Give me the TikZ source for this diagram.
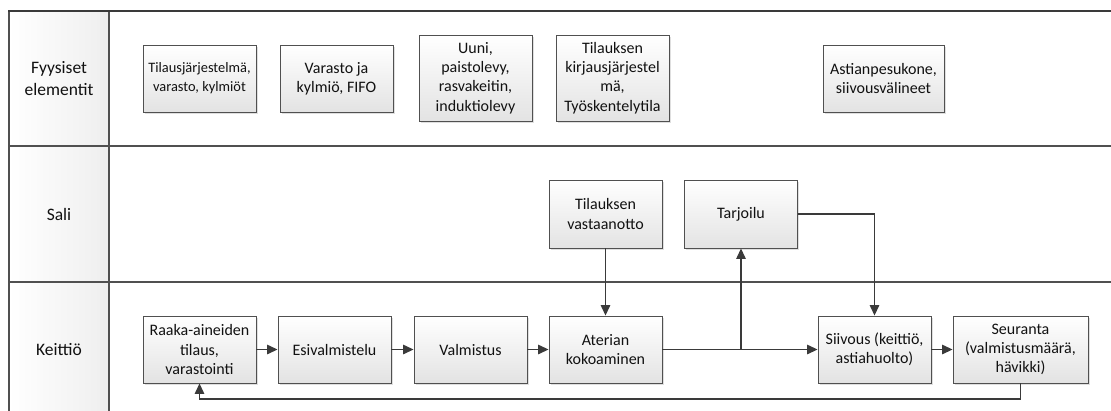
\documentclass[tikz,border=0pt]{standalone}
\usepackage{fontspec}
\setmainfont{Carlito}
\usetikzlibrary{arrows.meta,shadows}
\definecolor{frameclr}{HTML}{3A3A3A}
\definecolor{rowclr}{HTML}{505050}
\definecolor{boxline}{HTML}{505050}
\definecolor{lineclr}{HTML}{3A3A3A}
\definecolor{txt}{HTML}{111111}
\newcommand\boxfont{\fontsize{16}{19.3}\selectfont}
\newcommand\smallboxfont{\fontsize{14.4}{19}\selectfont}
\newcommand\lanefont{\fontsize{17.5}{22}\selectfont}
\begin{document}
\begin{tikzpicture}[x=1pt,y=-1pt,
  box/.style={draw=boxline, line width=0.9pt, top color=white, bottom color=gray!22,
    minimum width=113pt, minimum height=67pt, inner sep=1pt, align=center,
    font=\boxfont, text=txt,
    drop shadow={shadow xshift=1.6pt, shadow yshift=-1.6pt, opacity=0.25, fill=gray}},
  tall/.style={minimum height=86pt},
  lanelabel/.style={align=center, font=\lanefont, text=txt},
  conn/.style={draw=lineclr, line width=1.3pt, -{Triangle[length=10.5pt,width=9.5pt]}}
]
\useasboundingbox (0,0) rectangle (1111,410);
\fill[white] (0,0) rectangle (1111,410);
% lane header column
\shade[left color=white, right color=gray!13] (9,11) rectangle (109,412);
% frame
\draw[rowclr, line width=1.2pt] (9,146) -- (1112,146);
\draw[rowclr, line width=1.2pt] (9,282) -- (1112,282);
\draw[rowclr, line width=1.2pt] (109,11) -- (109,412);
\draw[rowclr, line width=1.2pt] (9,11) -- (9,412);
\draw[frameclr, line width=1.7pt] (8.2,11) -- (1112,11);

% lane labels
\node[lanelabel] (lf) at (59,79) {Fyysiset\\elementit};
\node[lanelabel] (ls) at (59,214) {Sali};
\node[lanelabel] (lk) at (59,350) {Keittiö};

% row 1: physical elements
\node[box, font=\smallboxfont] (t1) at (199.5,78.5) {Tilausjärjestelmä,\\varasto, kylmiöt};
\node[box] (t2) at (336.5,78.5) {Varasto ja\\kylmiö, FIFO};
\node[box, tall] (t3) at (475.5,78) {Uuni,\\paistolevy,\\rasvakeitin,\\induktiolevy};
\node[box, tall] (t4) at (612.5,78) {Tilauksen\\kirjausjärjestel\\mä,\\Työskentelytila};
\node[box, minimum width=121pt] (t5) at (883.5,78.5) {Astianpesukone,\\siivousvälineet};

% row 2: sali
\node[box, minimum height=68pt] (s1) at (605.5,214) {Tilauksen\\vastaanotto};
\node[box, minimum height=68pt] (s2) at (741,214) {Tarjoilu};

% row 3: keittio
\node[box] (k1) at (199.5,349.5) {Raaka-aineiden\\tilaus,\\varastointi};
\node[box] (k2) at (334.5,349.5) {Esivalmistelu};
\node[box] (k3) at (470.5,349.5) {Valmistus};
\node[box] (k4) at (605.5,349.5) {Aterian\\kokoaminen};
\node[box] (k5) at (874.5,349.5) {Siivous (keittiö,\\astiahuolto)};
\node[box, minimum width=135pt] (k6) at (1020.5,349.5) {Seuranta\\(valmistusmäärä,\\hävikki)};

% connectors
\draw[conn] (k1) -- (k2);
\draw[conn] (k2) -- (k3);
\draw[conn] (k3) -- (k4);
\draw[conn] (k4.east) -- (k5.west);
\coordinate (br) at (s2.south |- k4.east);
\draw[conn] (br) -- (s2.south);
\draw[conn] (s1.south) -- (k4.north);
\draw[conn] (s2.east) -| (k5.north);
\draw[conn] (k5) -- (k6);
\coordinate (fbline) at (0,399);
\draw[conn] (k6.south) -- (k6.south |- fbline) -| (k1.south);
\end{tikzpicture}
\end{document}
